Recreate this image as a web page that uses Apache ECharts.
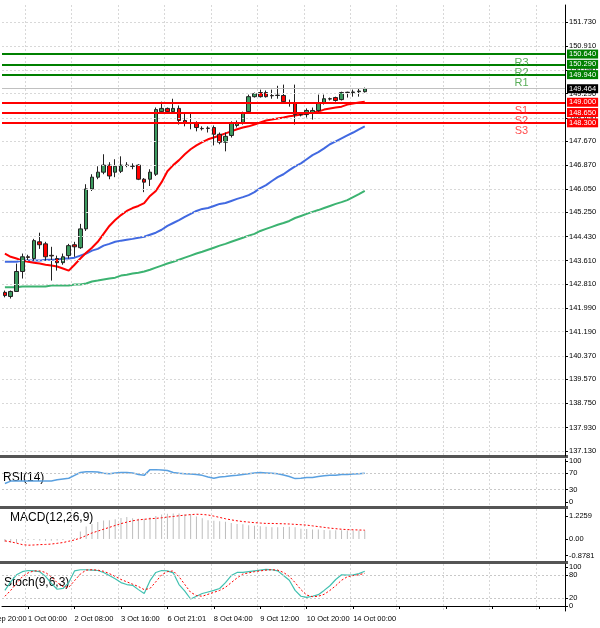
<!DOCTYPE html>
<html><head><meta charset="utf-8">
<script src="https://cdn.jsdelivr.net/npm/echarts@6/dist/echarts.min.js"></script>
<style>html,body{margin:0;padding:0;background:#fff}#c{width:600px;height:628px}</style>
</head><body><div id="c"></div>
<script>
// candles: [open, close, low, high]
const candles = [
[142.53,142.42,142.36,142.59],[142.39,142.56,142.32,142.59],[142.56,143.24,142.56,143.51],[143.24,143.74,143.00,143.85],
[143.74,143.72,143.61,143.81],[143.68,144.29,143.61,144.35],[144.25,144.15,144.01,144.56],[144.18,143.74,143.61,144.25],
[143.79,143.77,142.93,144.08],[143.68,143.54,143.27,143.78],[143.54,143.74,143.47,143.85],[143.78,144.12,143.68,144.18],
[144.15,144.08,143.74,144.25],[144.05,144.69,144.01,144.86],[144.69,146.05,144.62,146.21],[146.05,146.45,145.98,146.55],
[146.45,146.62,146.38,146.82],[146.62,146.86,146.55,147.23],[146.86,146.49,146.38,146.96],[146.62,146.82,146.45,147.06],
[146.65,146.86,146.59,147.16],[146.86,146.85,146.79,146.96],[146.82,146.83,146.72,146.92],[146.86,146.38,146.35,146.89],
[146.38,146.28,145.94,146.42],[146.38,146.62,146.15,146.72],[146.55,148.75,146.49,148.82],[148.68,148.79,148.65,149.02],
[148.79,148.68,148.65,148.82],[148.68,148.79,148.65,149.12],[148.79,148.38,148.24,148.89],[148.38,148.31,148.18,148.65],
[148.31,148.30,148.08,148.65],[148.31,148.14,148.01,148.35],[148.11,148.10,148.04,148.18],[148.11,148.12,147.97,148.18],
[148.14,147.91,147.53,148.21],[147.91,147.64,147.57,147.97],[147.64,147.84,147.33,147.97],[147.87,148.28,147.80,148.35],
[148.21,148.31,148.14,148.38],[148.31,148.62,148.24,148.68],[148.68,149.19,148.65,149.26],[149.19,149.29,149.16,149.33],
[149.33,149.19,149.16,149.43],[149.33,149.19,149.16,149.40],[149.23,149.22,149.12,149.43],[149.23,149.24,149.12,149.56],
[149.23,149.02,148.99,149.60],[148.99,148.98,148.85,149.09],[148.99,148.58,148.24,149.60],[148.58,148.57,148.52,148.65],
[148.58,148.72,148.48,148.79],[148.65,148.72,148.41,148.82],[148.72,148.99,148.68,149.26],[148.99,149.12,148.92,149.26],
[149.12,149.11,149.06,149.16],[149.16,149.06,149.02,149.19],[149.09,149.33,149.06,149.36],[149.33,149.34,149.16,149.36],
[149.33,149.35,149.19,149.43],[149.36,149.38,149.19,149.46],[149.36,149.46,149.33,149.50]];
const maRed = [143.85,143.74,143.68,143.61,143.57,143.54,143.51,143.47,143.44,143.41,143.34,143.27,143.47,143.68,143.88,144.05,144.25,144.52,144.79,144.99,145.16,145.30,145.40,145.47,145.57,145.81,145.98,146.28,146.65,146.86,147.03,147.23,147.40,147.53,147.64,147.74,147.80,147.87,147.94,148.01,148.08,148.14,148.18,148.24,148.31,148.38,148.41,148.45,148.48,148.52,148.55,148.58,148.62,148.65,148.68,148.75,148.79,148.82,148.85,148.92,148.96,148.99,149.02];
const maBlue = [143.57,143.57,143.57,143.61,143.61,143.61,143.61,143.64,143.64,143.64,143.68,143.68,143.71,143.78,143.85,143.95,144.01,144.12,144.18,144.25,144.29,144.32,144.35,144.39,144.42,144.49,144.56,144.66,144.79,144.89,144.99,145.10,145.20,145.30,145.37,145.40,145.47,145.54,145.57,145.64,145.71,145.77,145.84,145.94,146.08,146.18,146.32,146.45,146.55,146.69,146.82,146.92,147.06,147.20,147.30,147.43,147.57,147.67,147.77,147.87,147.97,148.08,148.18];
const maGreen = [142.70,142.70,142.70,142.73,142.73,142.73,142.73,142.73,142.76,142.76,142.76,142.76,142.80,142.80,142.83,142.90,142.93,142.97,143.00,143.03,143.10,143.13,143.17,143.20,143.24,143.30,143.37,143.44,143.51,143.57,143.64,143.71,143.78,143.85,143.91,143.98,144.05,144.12,144.18,144.25,144.32,144.39,144.46,144.52,144.62,144.69,144.76,144.83,144.89,144.96,145.06,145.13,145.20,145.27,145.33,145.40,145.47,145.54,145.60,145.67,145.77,145.87,145.98];
const rsi = [45,51,51,51,51,51,51,51,51,54,56,58,65,72,74,74,73,70,69,71,72,72,71,67,65,79,79,78,77,72,70,69,68,67,65,61,58,61,62,64,65,67,69,71,72,71,70,69,66,62,57,58,60,60,62,64,65,65,67,67,68,69,70];
const macdHist = [-0.15,-0.2,-0.2,-0.1,-0.05,-0.05,-0.08,-0.1,-0.1,-0.08,-0.05,0.0,0.05,0.4,0.66,0.8,0.9,0.98,1.0,1.05,1.12,1.17,1.1,1.08,1.08,1.15,1.22,1.3,1.34,1.36,1.36,1.32,1.3,1.2,1.1,1.0,0.97,0.95,0.92,0.85,0.8,0.78,0.73,0.7,0.68,0.65,0.62,0.62,0.64,0.65,0.62,0.55,0.53,0.5,0.5,0.48,0.47,0.47,0.46,0.45,0.45,0.45,0.45];
const macdSignal = [-0.1,-0.15,-0.22,-0.3,-0.33,-0.32,-0.3,-0.29,-0.27,-0.23,-0.19,-0.12,-0.05,0.05,0.18,0.32,0.42,0.52,0.62,0.72,0.82,0.9,0.97,1.02,1.05,1.08,1.1,1.13,1.17,1.2,1.24,1.27,1.3,1.32,1.31,1.28,1.22,1.15,1.08,1.02,0.97,0.93,0.9,0.87,0.85,0.83,0.83,0.82,0.81,0.8,0.78,0.76,0.74,0.7,0.66,0.62,0.58,0.55,0.52,0.5,0.49,0.48,0.47];
const stochMain = [40,62,80,88,91,90,88,76,58,43,45,60,90,93,93,92,91,86,78,70,60,55,53,42,32,65,86,91,90,85,55,38,18,25,32,36,40,45,60,78,86,86,88,90,92,94,93,90,78,66,40,25,22,25,29,40,52,68,80,79,80,83,89];
const stochSignal = [25,40,58,75,85,90,90,86,75,60,50,48,65,82,92,93,92,89,83,76,68,62,56,50,42,45,62,80,88,90,75,55,35,27,25,30,35,40,48,60,72,82,85,88,90,92,93,92,86,76,60,42,28,24,25,30,40,52,66,75,78,80,84];
const levelNames = ['R3','R2','R1','S1','S2','S3'];
const levelValues = [150.64,150.29,149.94,149.00,148.65,148.30];
const lastPrice = 149.464;
const priceTicks = [151.73,150.91,150.09,149.29,148.45,147.67,146.87,146.05,145.25,144.43,143.61,142.81,141.99,141.19,140.37,139.57,138.75,137.93,137.13];
const timeLabels = ['1 Oct 00:00','2 Oct 08:00','3 Oct 16:00','6 Oct 21:01','8 Oct 04:00','9 Oct 12:00','10 Oct 20:00','14 Oct 00:00'];
const N = 97;
const cats = Array.from({length:N},(_,i)=> (i>=4 && (i-4)%8===0 && timeLabels[(i-4)/8]) ? timeLabels[(i-4)/8] : '');
const isTick = i => i>=4 && (i-4)%8===0;

const F = 'Liberation Sans';
const gridLine = {show:true, lineStyle:{color:'#d8d8d8', type:[2,2], width:1}};
function xAx(g, showLabel){
  return {type:'category', gridIndex:g, data:cats, boundaryGap:true,
    axisLine:{show:showLabel, lineStyle:{color:'#000'}},
    axisTick:{show:true, alignWithLabel:true, interval:(i)=>isTick(i), length:showLabel?3:0, lineStyle:{color:'#000'}},
    axisLabel:{show:showLabel, interval:(i)=>isTick(i), align:'left', fontSize:7.5, fontFamily:F, color:'#000', margin:4, hideOverlap:false},
    splitLine:{show:true, interval:(i)=>isTick(i), lineStyle:{color:'#d8d8d8', type:[2,2], width:1}}};
}
function yAx(g,min,max,ticks,fmt){
  return {type:'value', gridIndex:g, min, max, position:'right',
    axisLine:{show:true, lineStyle:{color:'#000'}},
    axisTick:{show:true, length:3, customValues:ticks, lineStyle:{color:'#000'}},
    axisLabel:{customValues:ticks, fontSize:7.5, fontFamily:F, color:'#000', margin:4, formatter:fmt},
    splitLine:{show:false}};
}
const grids = [
  {left:2, top:5, width:563, height:451},
  {left:2, top:459, width:563, height:47},
  {left:2, top:509, width:563, height:52},
  {left:2, top:564, width:563, height:47}
];
const colorsLvl = ['#008000','#008000','#008000','#ff0000','#ff0000','#ff0000'];
const mlData = levelValues.map((v,k)=>({yAxis:v, lineStyle:{color:colorsLvl[k], width:2, type:'solid'},
  label:{show:true, position:'end', distance:2, formatter:v.toFixed(3), color:'#fff', backgroundColor:colorsLvl[k], padding:[1,2,0,2], fontSize:7.5, fontFamily:F}}));
mlData.push({yAxis:lastPrice, lineStyle:{color:'#c0c0c0', width:1, type:'solid'},
  label:{show:true, position:'end', distance:2, formatter:lastPrice.toFixed(3), color:'#fff', backgroundColor:'#000', padding:[1,2,0,2], fontSize:7.5, fontFamily:F}});

function hLines(vals){ return {silent:true, symbol:'none', label:{show:false}, lineStyle:{color:'#c8c8c8', type:[2,2], width:1}, data:vals.map(v=>({yAxis:v}))}; }
const mainH = {silent:true, symbol:'none', label:{show:false}, lineStyle:{color:'#d8d8d8', type:[2,2], width:1}, data:priceTicks.map(v=>({yAxis:v}))};

const option = {
  animation:false, backgroundColor:'#fff',
  grid:grids,
  xAxis:[xAx(0,false), xAx(1,false), xAx(2,false), xAx(3,true)],
  yAxis:[
    yAx(0,136.96,152.31,priceTicks,v=>v.toFixed(3)),
    yAx(1,-10,105,[0,30,70,100],v=>String(v)),
    yAx(2,-1.173,1.599,[-0.8781,0,1.2259],v=> v===0?'0.00':v.toFixed(4)),
    yAx(3,-12.8,107.7,[0,20,80,100],v=>String(v))
  ],
  series:[
    {type:'line', xAxisIndex:0, yAxisIndex:0, data:[], markLine:mainH},
    {type:'line', xAxisIndex:0, yAxisIndex:0, data:maGreen, showSymbol:false, lineStyle:{color:'#3cb371', width:2}, z:3},
    {type:'line', xAxisIndex:0, yAxisIndex:0, data:maBlue, showSymbol:false, lineStyle:{color:'#4169e1', width:2}, z:3},
    {type:'line', xAxisIndex:0, yAxisIndex:0, data:maRed, showSymbol:false, lineStyle:{color:'#ff0000', width:2}, z:3},
    {type:'candlestick', xAxisIndex:0, yAxisIndex:0, data:candles, barWidth:4, z:4,
      itemStyle:{color:'#3c9a5f', color0:'#ff0000', borderColor:'#222', borderColor0:'#222', borderWidth:1},
      markLine:{silent:true, symbol:'none', data:mlData}},
    {type:'scatter', xAxisIndex:0, yAxisIndex:0, symbolSize:0, z:5,
      data:levelValues.map((v,k)=>({value:[89,v], name:levelNames[k], label:{color:k<3?'#2e9a2e':'#ff2020'}})),
      label:{show:true, position:'bottom', distance:3, formatter:p=>p.name, fontSize:11, fontFamily:F}},
    {type:'line', xAxisIndex:1, yAxisIndex:1, data:rsi, showSymbol:false, lineStyle:{color:'#5aa0e0', width:1.5}, markLine:hLines([70,30])},
    {type:'bar', xAxisIndex:2, yAxisIndex:2, data:macdHist, barWidth:1, itemStyle:{color:'#bdbdbd'}},
    {type:'line', xAxisIndex:2, yAxisIndex:2, data:macdSignal, showSymbol:false, lineStyle:{color:'#ff0000', width:1, type:[2,2]}},
    {type:'line', xAxisIndex:3, yAxisIndex:3, data:stochMain, showSymbol:false, lineStyle:{color:'#40c0b0', width:1.2}, markLine:hLines([80,20])},
    {type:'line', xAxisIndex:3, yAxisIndex:3, data:stochSignal, showSymbol:false, lineStyle:{color:'#ff0000', width:1, type:[2,2]}}
  ],
  graphic:[
    {type:'rect', shape:{x:0,y:455,width:568,height:3}, style:{fill:'#555'}},
    {type:'rect', shape:{x:0,y:506,width:568,height:3}, style:{fill:'#555'}},
    {type:'rect', shape:{x:0,y:561,width:568,height:3}, style:{fill:'#555'}},
    {type:'text', left:3, top:472, style:{text:'RSI(14)', fontSize:12, fontFamily:F, fill:'#000'}},
    {type:'text', left:10, top:512, style:{text:'MACD(12,26,9)', fontSize:12, fontFamily:F, fill:'#000'}},
    {type:'text', left:4, top:577, style:{text:'Stoch(9,6,3)', fontSize:12, fontFamily:F, fill:'#000'}},
    {type:'text', x:-18, y:615, style:{text:'30 Sep 20:00', fontSize:7.5, fontFamily:F, fill:'#000'}}
  ]
};
const ch = echarts.init(document.getElementById('c'), null, {renderer:'canvas'});
ch.setOption(option);
</script></body></html>
